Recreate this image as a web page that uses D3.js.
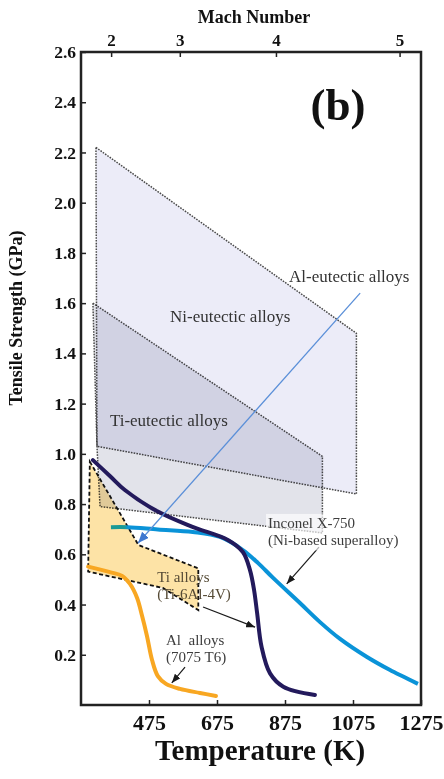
<!DOCTYPE html>
<html>
<head>
<meta charset="utf-8">
<script src="https://cdn.jsdelivr.net/npm/d3@7"></script>
<style>
  html, body { margin: 0; padding: 0; background: #fff; }
  svg { display: block; }
  text { font-family: "Liberation Serif", "Times New Roman", serif; }
</style>
</head>
<body>
<svg id="chart" width="444" height="779"></svg>
<script>
// ---- axes ----
const tempTicks = [475, 675, 875, 1075, 1275];
const strengthTicks = [0.2, 0.4, 0.6, 0.8, 1.0, 1.2, 1.4, 1.6, 1.8, 2.0, 2.2, 2.4, 2.6];
const machTicks = [2, 3, 4, 5];
const freeStreamTemp = 202; // K, used for stagnation temperature T0*(1+0.2*M^2)

// ---- alloy property regions (K, GPa) ----
const niEutectic = [[319, 2.22], [1085, 1.48], [1085, 0.84], [322, 1.03]];
const tiEutectic = [[310, 1.60], [985, 0.99], [985, 0.685], [331, 0.79], [322, 1.03]];
const tiAlloyBand = [[301, 0.969], [444, 0.637], [620, 0.544], [620, 0.378], [516, 0.466], [296, 0.531]];

// ---- strength vs temperature curves (K, GPa) ----
const ti6Al4V = [[310, 0.975], [360, 0.912], [404, 0.856], [501, 0.77], [601, 0.71], [707, 0.657],
  [751, 0.609], [772, 0.537], [784, 0.458], [793, 0.366], [806, 0.232], [831, 0.126],
  [870, 0.073], [963, 0.04]];
const inconelX750 = [[363, 0.708], [413, 0.708], [501, 0.699], [604, 0.689], [684, 0.669],
  [751, 0.617], [796, 0.565], [840, 0.506], [919, 0.406], [978, 0.33], [1037, 0.263],
  [1115, 0.192], [1184, 0.139], [1266, 0.084]];
const al7075T6 = [[296, 0.551], [360, 0.529], [396, 0.514], [419, 0.482], [440, 0.426], [454, 0.358],
  [469, 0.275], [484, 0.179], [501, 0.115], [525, 0.084], [566, 0.064], [625, 0.048], [672, 0.036]];

// ---- annotations (K, GPa) ----
const alEutecticArrow = [[1096, 1.64], [443, 0.645]];
const blackArrows = [
  [[975, 0.629], [880, 0.482]],
  [[634, 0.39], [787, 0.31]],
  [[581, 0.151], [542, 0.088]]
];
const regionLabels = [
  { text: "Ni-eutectic alloys", at: [537, 1.525] },
  { text: "Ti-eutectic alloys", at: [360, 1.11] },
  { text: "Al-eutectic alloys", at: [887, 1.684] }
];
const curveLabels = [
  { lines: ["Inconel X-750", "(Ni-based superalloy)"], at: [825, 0.705], color: "#3d3d3d", backdrop: true },
  { lines: ["Ti alloys", "(Ti-6Al-4V)"], at: [499, 0.49], color: "#554a35", backdrop: false },
  { lines: ["Al  alloys", "(7075 T6)"], at: [525, 0.239], color: "#3d3d3d", backdrop: false }
];

const svg = d3.select("#chart");
const m = { left: 81, right: 421, top: 52, bottom: 705 };

const x = d3.scaleLinear().domain([275, 1275]).range([m.left, m.right]);
const y = d3.scaleLinear().domain([0, 2.6]).range([m.bottom, m.top]);
const xMach = d3.scalePow().exponent(2).domain([0, 5])
  .range([x(freeStreamTemp), x(freeStreamTemp * (1 + 0.2 * 25))]);

const pt = d => [x(d[0]), y(d[1])];
const poly = arr => arr.map(d => pt(d).join(",")).join(" ");

// defs: arrow markers and Inconel colour transition
const defs = svg.append("defs");
function marker(id, color, w, h) {
  defs.append("marker").attr("id", id)
    .attr("viewBox", `0 0 ${w} ${h}`).attr("refX", w).attr("refY", h / 2)
    .attr("markerWidth", w).attr("markerHeight", h)
    .attr("markerUnits", "userSpaceOnUse").attr("orient", "auto")
    .append("path").attr("d", `M0,0L${w},${h / 2}L0,${h}Z`).attr("fill", color);
}
marker("arrowBlack", "#1a1a1a", 9, 7);
marker("arrowBlue", "#3f78d0", 11, 9);

const grad = defs.append("linearGradient").attr("id", "inconelGrad")
  .attr("gradientUnits", "userSpaceOnUse")
  .attr("x1", x(363)).attr("x2", x(430)).attr("y1", 0).attr("y2", 0);
grad.append("stop").attr("offset", "0.6").attr("stop-color", "#1a9a96");
grad.append("stop").attr("offset", "0.75").attr("stop-color", "#0a93d8");
grad.append("stop").attr("offset", "1").attr("stop-color", "#0a93d8");

// regions
const regionStroke = sel => sel.attr("stroke", "#4a4a4a").attr("stroke-width", 1.5)
  .attr("stroke-dasharray", "1.6,1.2");

svg.append("polygon").attr("points", poly(niEutectic))
  .attr("fill", "#ececf8").call(regionStroke);

svg.append("polygon").attr("points", poly(tiAlloyBand))
  .attr("fill", "#fde3a6");

svg.append("polygon").attr("points", poly(tiEutectic))
  .attr("fill", "#e2e3ea").style("mix-blend-mode", "multiply").call(regionStroke);

svg.append("polygon").attr("points", poly(tiAlloyBand))
  .attr("fill", "none").attr("stroke", "#111").attr("stroke-width", 1.8)
  .attr("stroke-dasharray", "4,2.5");

// curves
const line = d3.line().x(d => x(d[0])).y(d => y(d[1])).curve(d3.curveCatmullRom.alpha(0.5));
svg.append("path").attr("d", line(al7075T6)).attr("fill", "none")
  .attr("stroke", "#f8a722").attr("stroke-width", 4).attr("stroke-linecap", "round");
svg.append("path").attr("d", line(inconelX750)).attr("fill", "none")
  .attr("stroke", "url(#inconelGrad)").attr("stroke-width", 4).attr("stroke-linecap", "butt");
svg.append("path").attr("d", line(ti6Al4V)).attr("fill", "none")
  .attr("stroke", "#231a5c").attr("stroke-width", 4).attr("stroke-linecap", "round");

// Al-eutectic pointer
svg.append("line")
  .attr("x1", x(alEutecticArrow[0][0])).attr("y1", y(alEutecticArrow[0][1]))
  .attr("x2", x(alEutecticArrow[1][0])).attr("y2", y(alEutecticArrow[1][1]))
  .attr("stroke", "#5a8fd8").attr("stroke-width", 1.3).attr("marker-end", "url(#arrowBlue)");

// black pointers
blackArrows.forEach(a => {
  svg.append("line")
    .attr("x1", x(a[0][0])).attr("y1", y(a[0][1]))
    .attr("x2", x(a[1][0])).attr("y2", y(a[1][1]))
    .attr("stroke", "#1a1a1a").attr("stroke-width", 1.2).attr("marker-end", "url(#arrowBlack)");
});

// labels
regionLabels.forEach(l => {
  svg.append("text").attr("x", x(l.at[0])).attr("y", y(l.at[1]))
    .attr("font-size", 17).attr("fill", "#333").text(l.text);
});
curveLabels.forEach(l => {
  const g = svg.append("g");
  const t = g.append("text").attr("font-size", 15).attr("fill", l.color);
  l.lines.forEach((s, i) => {
    t.append("tspan").attr("x", x(l.at[0])).attr("y", y(l.at[1]) + i * 17.5)
      .style("white-space", "pre").text(s);
  });
  if (l.backdrop) {
    const b = t.node().getBBox();
    g.insert("rect", "text").attr("x", b.x - 2).attr("y", b.y - 1)
      .attr("width", b.width + 4).attr("height", b.height + 2)
      .attr("fill", "#fff").attr("opacity", 0.65);
  }
});

// panel tag
svg.append("text").attr("x", 338).attr("y", 120).attr("text-anchor", "middle")
  .attr("font-size", 45).attr("font-weight", "bold").attr("fill", "#111").text("(b)");

// axes
const axisStyle = g => {
  g.select(".domain").remove();
  g.selectAll(".tick line").attr("stroke", "#222").attr("stroke-width", 1.5);
  g.selectAll(".tick text").attr("fill", "#111").attr("font-weight", "bold")
    .attr("font-family", "Liberation Serif, serif");
};

svg.append("g").attr("transform", `translate(${m.left},0)`)
  .call(d3.axisLeft(y).tickValues(strengthTicks).tickFormat(d3.format(".1f")).tickSize(-5).tickPadding(5))
  .call(axisStyle).call(g => g.selectAll(".tick text").attr("font-size", 17.5));

svg.append("g").attr("transform", `translate(0,${m.bottom})`)
  .call(d3.axisBottom(x).tickValues(tempTicks).tickFormat(d3.format("d")).tickSize(-5).tickPadding(9))
  .call(axisStyle).call(g => g.selectAll(".tick text").attr("font-size", 22));

svg.append("g").attr("transform", `translate(0,${m.top})`)
  .call(d3.axisTop(xMach).tickValues(machTicks).tickFormat(d3.format("d")).tickSize(-5).tickPadding(6))
  .call(axisStyle).call(g => g.selectAll(".tick text").attr("font-size", 17));

// frame
svg.append("rect").attr("x", m.left).attr("y", m.top)
  .attr("width", m.right - m.left).attr("height", m.bottom - m.top)
  .attr("fill", "none").attr("stroke", "#222").attr("stroke-width", 2.5);

// axis titles
svg.append("text").attr("x", 254).attr("y", 23).attr("text-anchor", "middle")
  .attr("font-size", 18).attr("font-weight", "bold").attr("fill", "#111").text("Mach Number");
svg.append("text").attr("x", 260).attr("y", 760).attr("text-anchor", "middle")
  .attr("font-size", 29).attr("font-weight", "bold").attr("fill", "#111").text("Temperature (K)");
svg.append("text").attr("transform", "translate(22,318) rotate(-90)").attr("text-anchor", "middle")
  .attr("font-size", 18).attr("font-weight", "bold").attr("fill", "#111").text("Tensile Strength (GPa)");
</script>
</body>
</html>
